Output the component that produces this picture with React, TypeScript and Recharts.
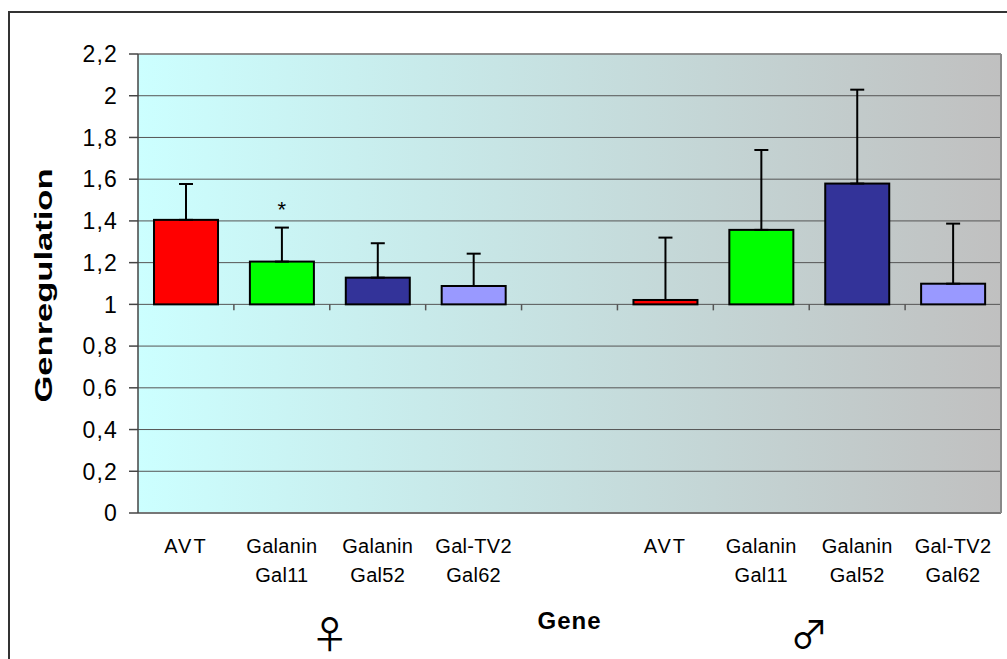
import React from 'react';
import {
  BarChart,
  Bar,
  XAxis,
  YAxis,
  CartesianGrid,
  ErrorBar,
  ReferenceLine,
  ReferenceArea,
  Label,
} from 'recharts';

const categoryKeys = ['F-AVT', 'F-Gal11', 'F-Gal52', 'F-Gal62', 'gap', 'M-AVT', 'M-Gal11', 'M-Gal52', 'M-Gal62'];
const categoryLabels = [
  ['AVT'],
  ['Galanin', 'Gal11'],
  ['Galanin', 'Gal52'],
  ['Gal-TV2', 'Gal62'],
  [],
  ['AVT'],
  ['Galanin', 'Gal11'],
  ['Galanin', 'Gal52'],
  ['Gal-TV2', 'Gal62'],
];
const regulation = [1.405, 1.205, 1.128, 1.088, null, 1.021, 1.357, 1.579, 1.099];
const upperError = [0.172, 0.163, 0.165, 0.155, null, 0.299, 0.383, 0.45, 0.288];
const barColors = ['#FF0000', '#00FF00', '#333399', '#9999FF', null, '#FF0000', '#00FF00', '#333399', '#9999FF'];
const significance = ['', '*', '', '', '', '', '', '', ''];
const yTicks = [0, 0.2, 0.4, 0.6, 0.8, 1, 1.2, 1.4, 1.6, 1.8, 2, 2.2];
const groups = [
  { symbol: '♀', from: 'F-AVT', to: 'F-Gal62' },
  { symbol: '♂', from: 'M-AVT', to: 'M-Gal62' },
];
const baseline = 1;

const data = categoryKeys.map((key, i) => ({
  key,
  value: regulation[i],
  err: upperError[i] == null ? null : [0, upperError[i]],
  fill: barColors[i],
  mark: significance[i],
}));

const FONT = '"Liberation Sans", Arial, sans-serif';

const BaselineBar = (props: any) => {
  const { x, y, width, height, payload } = props;
  if (!payload || payload.value == null || !height) return null;
  const pxPerUnit = height / payload.value;
  const yBase = y + height - baseline * pxPerUnit;
  const errTop = payload.err ? y - payload.err[1] * pxPerUnit : y;
  return (
    <g>
      <rect x={x} y={y} width={width} height={yBase - y} fill={payload.fill} stroke="#000" strokeWidth={2} />
      {payload.mark ? (
        <text x={x + width / 2} y={errTop - 11} textAnchor="middle" fontSize={22} fontFamily={FONT} fill="#000">
          {payload.mark}
        </text>
      ) : null}
    </g>
  );
};

const CategoryTick = (props: any) => {
  const { x, y, payload } = props;
  const idx = categoryKeys.indexOf(payload.value);
  const lines = idx >= 0 ? categoryLabels[idx] : [];
  return (
    <g>
      {lines.map((l, i) => (
        <text
          key={i}
          x={x}
          y={y + 40 + i * 29}
          textAnchor="middle"
          fontSize={20}
          fontFamily={FONT}
          fill="#000"
          letterSpacing={l === 'AVT' ? 2 : 0.3}
        >
          {l}
        </text>
      ))}
    </g>
  );
};

const ValueTick = (props: any) => {
  const { x, y, payload } = props;
  return (
    <text
      x={x}
      y={y}
      dy="0.36em"
      textAnchor="end"
      fontSize={23}
      fontFamily={FONT}
      letterSpacing={1.2}
      fill="#000"
    >
      {String(payload.value).replace('.', ',')}
    </text>
  );
};

const AxisTicksAtBaseline = (p: any) => {
  const { x1, x2, y1 } = p;
  const n = categoryKeys.length;
  const step = (x2 - x1) / n;
  return (
    <g>
      {categoryKeys.slice(1).map((k, i) => (
        <line
          key={k}
          x1={x1 + step * (i + 1)}
          x2={x1 + step * (i + 1)}
          y1={y1}
          y2={y1 + 6}
          stroke="#555"
          strokeWidth={1.5}
        />
      ))}
    </g>
  );
};

export default function App() {
  return (
    <div
      style={{
        position: 'fixed',
        left: 0,
        top: 0,
        width: 1007,
        height: 659,
        overflow: 'hidden',
        background: '#fff',
      }}
    >
      <div
        style={{
          position: 'absolute',
          left: 8,
          top: 11,
          width: 1100,
          height: 700,
          border: '2px solid #333',
        }}
      />
      <div style={{ position: 'absolute', left: 0, top: 0 }}>
        <BarChart
          width={1007}
          height={659}
          data={data}
          margin={{ top: 54, right: 0, bottom: 0, left: 0 }}
          barCategoryGap="16.7%"
        >
          <defs>
            <linearGradient id="plotBg" x1="0" y1="0" x2="1" y2="0">
              <stop offset="0%" stopColor="#CCFFFF" />
              <stop offset="100%" stopColor="#C0C0C0" />
            </linearGradient>
          </defs>
          <CartesianGrid
            vertical={false}
            horizontal
            stroke="#555"
            strokeWidth={1}
            fill="url(#plotBg)"
            fillOpacity={1}
          />
          <XAxis
            dataKey="key"
            height={146}
            axisLine={false}
            tickLine={false}
            tickSize={0}
            tickMargin={0}
            interval={0}
            tick={<CategoryTick />}
          >
            <Label
              content={(p: any) => {
                const vb = p.viewBox || {};
                return (
                  <text
                    x={vb.x + vb.width / 2}
                    y={vb.y + 116}
                    textAnchor="middle"
                    fontSize={24}
                    fontWeight="bold"
                    fontFamily={FONT}
                    letterSpacing={1}
                    fill="#000"
                  >
                    Gene
                  </text>
                );
              }}
            />
          </XAxis>
          <YAxis
            yAxisId={0}
            width={138}
            domain={[0, 2.2]}
            ticks={yTicks}
            interval={0}
            tickSize={9}
            tickMargin={11}
            axisLine={{ stroke: '#444', strokeWidth: 1.5 }}
            tickLine={{ stroke: '#444', strokeWidth: 1.5 }}
            tick={<ValueTick />}
          >
            <Label
              content={(p: any) => {
                const vb = p.viewBox || {};
                const cx = vb.x + 52;
                const cy = vb.y + vb.height / 2 + 2;
                return (
                  <text
                    x={cx}
                    y={cy}
                    transform={`rotate(-90, ${cx}, ${cy})`}
                    textAnchor="middle"
                    fontSize={24}
                    fontWeight="bold"
                    fontFamily={FONT}
                    textLength={234}
                    lengthAdjust="spacingAndGlyphs"
                    fill="#000"
                  >
                    Genregulation
                  </text>
                );
              }}
            />
          </YAxis>
          <YAxis
            yAxisId="right"
            orientation="right"
            width={6}
            tick={false}
            tickLine={false}
            axisLine={{ stroke: '#888', strokeWidth: 2 }}
            domain={[0, 2.2]}
          />
          <ReferenceLine y={0} stroke="#777" strokeWidth={2} />
          <ReferenceLine y={2.2} stroke="#888" strokeWidth={1.5} />
          <ReferenceLine y={baseline} stroke="#555" shape={AxisTicksAtBaseline} />
          {groups.map((g) => (
            <ReferenceArea
              key={g.symbol}
              x1={g.from}
              x2={g.to}
              fill="none"
              fillOpacity={0}
              stroke="none"
              ifOverflow="visible"
              label={
                <Label
                  content={(p: any) => {
                    const vb = p.viewBox || {};
                    return (
                      <text
                        x={vb.x + vb.width / 2}
                        y={vb.y + vb.height + 135}
                        textAnchor="middle"
                        fontSize={38}
                        fontWeight="normal"
                        fontFamily='"Noto Sans CJK JP", "Noto Sans CJK SC", sans-serif'
                        fill="#000"
                      >
                        {g.symbol}
                      </text>
                    );
                  }}
                />
              }
            />
          ))}
          <Bar dataKey="value" isAnimationActive={false} shape={<BaselineBar />}>
            <ErrorBar dataKey="err" width={7} strokeWidth={2} stroke="#000" direction="y" isAnimationActive={false} />
          </Bar>
        </BarChart>
      </div>
    </div>
  );
}
